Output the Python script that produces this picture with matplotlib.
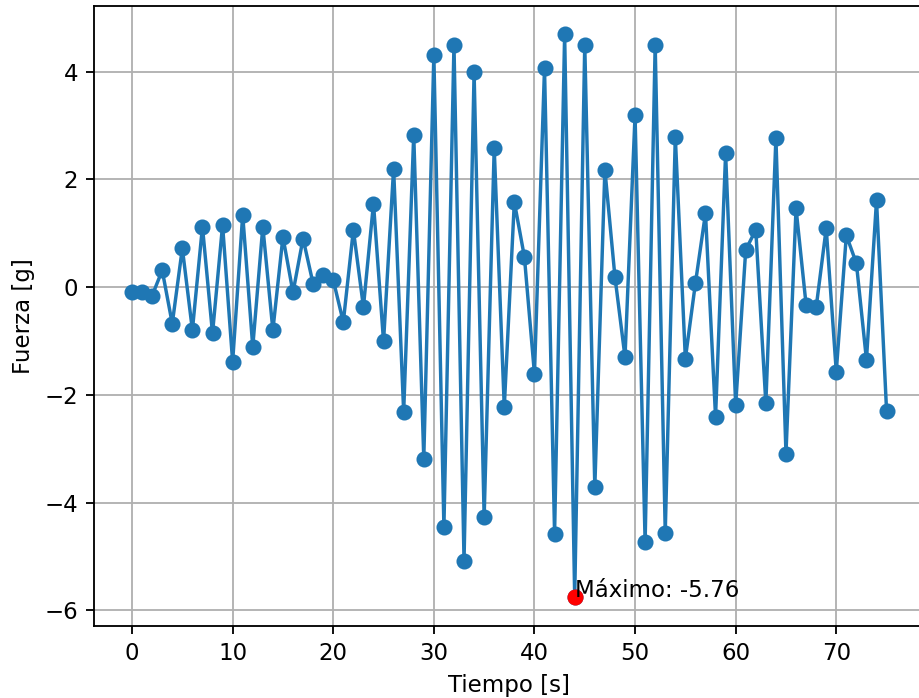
import matplotlib
matplotlib.use("Agg")
import matplotlib.pyplot as plt
import numpy as np

tiempo = list(range(0, 76))
fuerza = [
    -0.09, -0.09, -0.16, 0.31, -0.68, 0.72, -0.80, 1.12, -0.86, 1.15,
    -1.39, 1.34, -1.11, 1.12, -0.80, 0.93, -0.10, 0.90, 0.06, 0.22,
    0.13, -0.65, 1.06, -0.37, 1.55, -1.01, 2.20, -2.32, 2.83, -3.19,
    4.31, -4.46, 4.50, -5.08, 3.99, -4.27, 2.58, -2.23, 1.58, 0.56,
    -1.61, 4.06, -4.58, 4.69, -5.76, 4.50, -3.72, 2.18, 0.19, -1.30,
    3.19, -4.74, 4.50, -4.56, 2.79, -1.33, 0.07, 1.37, -2.41, 2.48,
    -2.19, 0.69, 1.06, -2.16, 2.77, -3.09, 1.46, -0.33, -0.38, 1.09,
    -1.57, 0.96, 0.44, -1.35, 1.61, -2.30,
]

idx_max = int(np.argmax(np.abs(fuerza)))
t_max = tiempo[idx_max]
f_max = fuerza[idx_max]

dpi = 165
W, H = 919, 698
fig = plt.figure(figsize=(W / dpi, H / dpi), dpi=dpi)
ax = fig.add_axes([94.3 / W, 72.5 / H, 830.0 / W, 619.3 / H])

ax.plot(tiempo, fuerza, "o-")
ax.plot(t_max, f_max, "ro")
ax.text(t_max, f_max, f"Máximo: {f_max:.2f}")

ax.set_xlabel("Tiempo [s]")
ax.set_ylabel("Fuerza [g]")
ax.grid(True)

fig.savefig("out.png", dpi=dpi)
